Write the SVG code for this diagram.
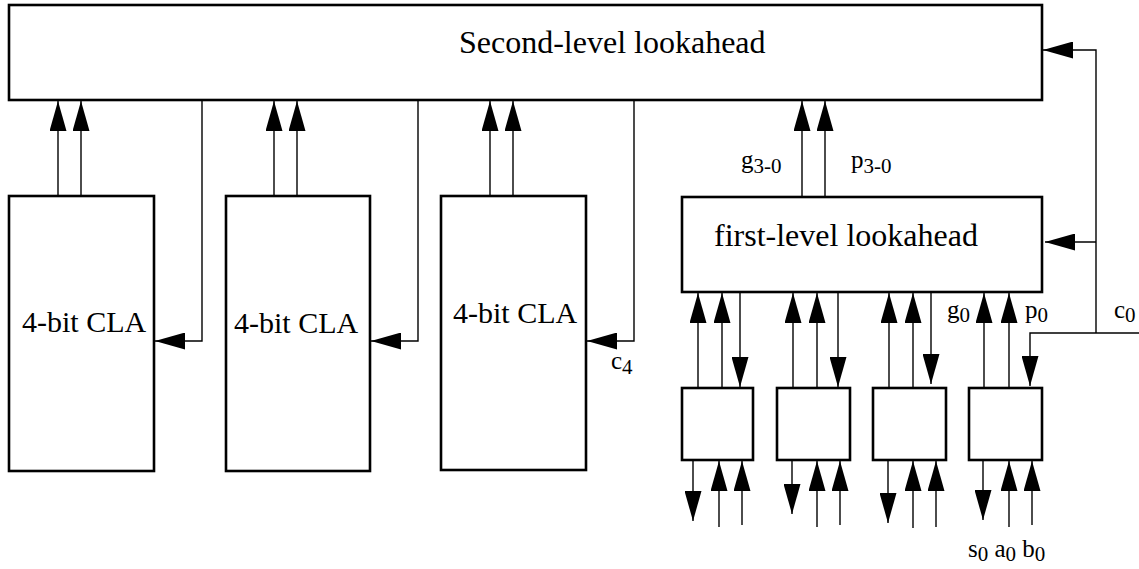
<svg xmlns="http://www.w3.org/2000/svg" width="1139" height="569" viewBox="0 0 1139 569">
<style>
.box{fill:#fff;stroke:#000;stroke-width:2.6}
.w{fill:none;stroke:#000;stroke-width:1.4}
.a{fill:none;stroke:#000;stroke-width:1.4;marker-end:url(#ah)}
.big{font-family:"Liberation Serif","Times New Roman",serif;font-size:32px;fill:#000}
.cla{font-family:"Liberation Serif","Times New Roman",serif;font-size:30px;fill:#000}
.lbl{font-family:"Liberation Serif","Times New Roman",serif;font-size:25px;fill:#000}
.sub{font-size:21px}
</style>
<defs>
<marker id="ah" markerUnits="userSpaceOnUse" markerWidth="30" markerHeight="17" refX="30" refY="8.5" orient="auto" viewBox="0 0 30 17">
<path d="M0,0 L30,8.5 L0,17 Z" fill="#000"/>
</marker>
</defs>
<g id="connectors">
<path class="a" d="M58,196 V101"/>
<path class="a" d="M81,196 V101"/>
<path class="a" d="M274,196 V101"/>
<path class="a" d="M297,196 V101"/>
<path class="a" d="M490,196 V101"/>
<path class="a" d="M513,196 V101"/>
<path class="a" d="M202,100 V341 H155"/>
<path class="a" d="M418,100 V341 H371"/>
<path class="a" d="M634,100 V341 H587"/>
<path class="a" d="M802,197 V101"/>
<path class="a" d="M825,197 V101"/>
<path class="a" d="M1096,333 V50 H1043"/>
<path class="a" d="M1096,242 H1045"/>
<path class="w" d="M1139,333 H1096"/>
<path class="a" d="M1096,333 H1030 V386"/>
<path class="a" d="M698,388 V293"/>
<path class="a" d="M722,388 V293"/>
<path class="a" d="M740,292 V387"/>
<path class="a" d="M793,388 V293"/>
<path class="a" d="M817,388 V293"/>
<path class="a" d="M838,292 V387"/>
<path class="a" d="M889,388 V293"/>
<path class="a" d="M913,388 V293"/>
<path class="a" d="M931,287 V384"/>
<path class="a" d="M984,388 V293"/>
<path class="a" d="M1009,388 V293"/>
<path class="a" d="M693,460 V521"/>
<path class="a" d="M719,527 V461"/>
<path class="a" d="M742,525 V461"/>
<path class="a" d="M792,460 V514"/>
<path class="a" d="M817,527 V461"/>
<path class="a" d="M840,525 V461"/>
<path class="a" d="M888,460 V523"/>
<path class="a" d="M913,528 V461"/>
<path class="a" d="M936,527 V461"/>
<path class="a" d="M983,460 V520"/>
<path class="a" d="M1009,527 V461"/>
<path class="a" d="M1032,525 V461"/>
</g>
<g id="second-level">
<rect class="box" x="9" y="5" width="1033" height="95"/>
<text class="big" x="459" y="53">Second-level lookahead</text>
</g>
<g id="cla1">
<rect class="box" x="9" y="196" width="145" height="275"/>
<text class="cla" x="22" y="332">4-bit CLA</text>
</g>
<g id="cla2">
<rect class="box" x="226" y="196" width="144" height="275"/>
<text class="cla" x="234" y="333">4-bit CLA</text>
</g>
<g id="cla3">
<rect class="box" x="441" y="196" width="145" height="274"/>
<text class="cla" x="453" y="323">4-bit CLA</text>
</g>
<g id="first-level">
<rect class="box" x="682" y="197" width="360" height="95"/>
<text class="big" x="714" y="246">first-level lookahead</text>
</g>
<g id="bit3"><rect class="box" x="682" y="388" width="71" height="72"/></g>
<g id="bit2"><rect class="box" x="777" y="388" width="73" height="72"/></g>
<g id="bit1"><rect class="box" x="873" y="388" width="73" height="72"/></g>
<g id="bit0"><rect class="box" x="969" y="388" width="73" height="72"/></g>
<g id="labels">
<text class="lbl" x="741" y="168">g<tspan class="sub" dy="5">3-0</tspan></text>
<text class="lbl" x="851" y="168">p<tspan class="sub" dy="5">3-0</tspan></text>
<text class="lbl" x="947" y="318">g<tspan class="sub" dy="4">0</tspan></text>
<text class="lbl" x="1025" y="318">p<tspan class="sub" dy="4">0</tspan></text>
<text class="lbl" x="1114" y="318">c<tspan class="sub" dy="4">0</tspan></text>
<text class="lbl" x="611" y="369">c<tspan class="sub" dy="5">4</tspan></text>
<text class="lbl" x="968" y="557">s<tspan class="sub" dy="4">0</tspan><tspan dy="-4"> a</tspan><tspan class="sub" dy="4">0</tspan><tspan dy="-4"> b</tspan><tspan class="sub" dy="4">0</tspan></text>
</g>
</svg>
